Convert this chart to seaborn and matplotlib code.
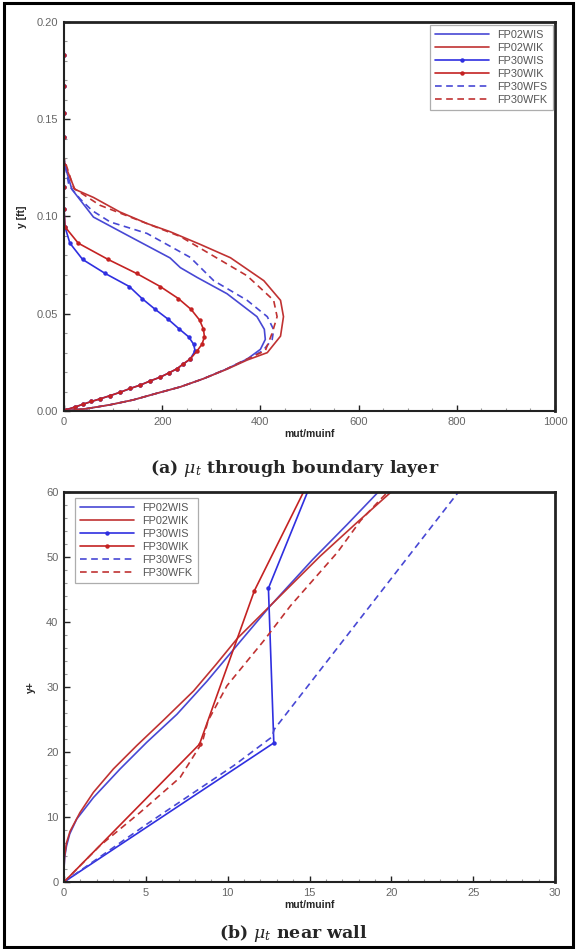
"""
Turbulent viscosity profiles: boundary layer and near-wall views.
"""

import matplotlib
matplotlib.use("Agg")
import matplotlib.pyplot as plt
from matplotlib.patches import Rectangle
from matplotlib.ticker import MultipleLocator, FormatStrFormatter
import seaborn as sns
import pandas as pd

# ---- (a) mu_t through boundary layer: mut/muinf vs y [ft] ----
a_fp02wis_x = [0, 46, 94, 141, 189, 237, 284, 332, 373, 400, 410, 408, 393, 332, 271, 237, 216, 128, 60, 16, 2, 0]
a_fp02wis_y = [0, .0012, .0032, .0057, .0091, .0124, .0166, .0217, .0267, .0317, .0368, .0420, .0485, .0603,
               .0687, .0737, .0787, .0905, .0997, .1140, .1260, .1290]

a_fp02wik_x = [0, 46, 94, 141, 189, 237, 284, 332, 373, 414, 441, 447, 441, 407, 339, 278, 216, 169, 114, 60, 22, 2, 0]
a_fp02wik_y = [0, .0012, .0032, .0057, .0091, .0124, .0166, .0215, .0262, .0300, .0385, .0485, .0569, .0670,
               .0788, .0856, .0922, .0964, .1023, .1098, .1140, .1266, .1300]

a_fp30wis_x = [0, 5, 22, 39, 56, 73, 94, 114, 135, 155, 176, 196, 213, 230, 243, 257, 267, 264, 254, 235, 212,
               186, 159, 133, 84, 38, 12, 2, 0, 0, 0, 0, 0, 0, 0]
a_fp30wis_y = [0, .0007, .0020, .0035, .0049, .0062, .0079, .0096, .0116, .0133, .0155, .0174, .0195, .0217,
               .0242, .0267, .0309, .0343, .0381, .0421, .0472, .0522, .0578, .0640, .0707, .0779, .0863,
               .0947, .1040, .1150, .1266, .1408, .1530, .1670, .1830]

a_fp30wik_x = [0, 5, 22, 39, 56, 73, 94, 114, 135, 155, 176, 196, 213, 230, 243, 257, 271, 281, 286, 284, 276,
               259, 233, 196, 148, 90, 29, 2, 0, 0, 0, 0, 0, 0, 0]
a_fp30wik_y = [0, .0007, .0020, .0035, .0049, .0062, .0079, .0096, .0116, .0133, .0155, .0174, .0195, .0217,
               .0242, .0267, .0309, .0343, .0381, .0421, .0468, .0522, .0578, .0640, .0707, .0779, .0863,
               .0947, .1040, .1150, .1266, .1408, .1530, .1670, .1830]

a_fp30wfs_x = [0, 46, 94, 141, 189, 237, 284, 332, 373, 405, 424, 427, 414, 373, 305, 257, 169, 94, 57, 33, 10, 0]
a_fp30wfs_y = [0, .0012, .0032, .0057, .0091, .0124, .0166, .0217, .0267, .0310, .0368, .0418, .0485, .0569,
               .0670, .0790, .0913, .0972, .1031, .1090, .1160, .1300]

a_fp30wfk_x = [0, 46, 94, 141, 189, 237, 284, 332, 373, 410, 424, 434, 427, 373, 237, 73, 20, 0]
a_fp30wfk_y = [0, .0012, .0032, .0057, .0091, .0124, .0166, .0217, .0267, .0310, .0401, .0485, .0569, .0695,
               .0897, .1058, .1145, .1300]

# ---- (b) mu_t near wall: mut/muinf vs y+ ----
b_fp02wis_x = [0, 0.0, 0.04, 0.15, 0.35, 0.78, 1.8, 3.43, 5.06, 6.9, 8.74, 10.7, 12.61, 15.19, 17.3, 19.24]
b_fp02wis_y = [0, 2.0, 3.8, 5.5, 7.4, 9.7, 13.0, 17.4, 21.5, 25.8, 30.9, 36.8, 42.5, 49.6, 55.0, 60.1]

b_fp02wik_x = [0, 0.0, 0.03, 0.15, 0.37, 0.98, 1.8, 3.02, 4.45, 6.08, 7.92, 9.3, 10.6, 12.6, 15.64, 17.9, 20.03]
b_fp02wik_y = [0, 2.0, 3.8, 6.0, 7.8, 10.7, 13.8, 17.4, 21.0, 24.9, 29.4, 33.5, 37.5, 42.5, 50.1, 55.3, 60.1]

b_fp30wis_x = [0, 12.82, 12.49, 17.3]
b_fp30wis_y = [0, 21.4, 45.2, 75.0]

b_fp30wik_x = [0, 8.28, 11.63, 17.6]
b_fp30wik_y = [0, 21.2, 44.8, 75.0]

b_fp30wfs_x = [0, 5.06, 10.37, 12.7, 12.85, 15.87, 18.52, 24.1]
b_fp30wfs_y = [0, 8.9, 17.9, 22.3, 23.5, 33.3, 41.9, 60.0]

b_fp30wfk_x = [0, 2.2, 4.65, 7.1, 8.45, 8.8, 9.96, 12.2, 13.84, 15.27, 16.7, 18.12, 19.35, 19.9]
b_fp30wfk_y = [0, 5.6, 10.7, 16.1, 21.5, 24.8, 30.2, 37.1, 42.5, 46.6, 50.7, 55.6, 58.9, 60.3]

series_names = ["FP02WIS", "FP02WIK", "FP30WIS", "FP30WIK", "FP30WFS", "FP30WFK"]

BLUE = "#4848d4"
BLUE_M = "#2f2fe0"
RED = "#c03232"
RED_M = "#c42222"
DASH = (0, (4, 2.7))

styles = {
    "FP02WIS": dict(color=BLUE, linestyle="-"),
    "FP02WIK": dict(color=RED, linestyle="-"),
    "FP30WIS": dict(color=BLUE_M, linestyle="-", marker="o", markersize=3.2, markeredgewidth=0),
    "FP30WIK": dict(color=RED_M, linestyle="-", marker="o", markersize=3.2, markeredgewidth=0),
    "FP30WFS": dict(color=BLUE, linestyle=DASH),
    "FP30WFK": dict(color=RED, linestyle=DASH),
}

sns.set_style("ticks")
plt.rcParams["font.family"] = ["Liberation Sans", "DejaVu Sans"]
plt.rcParams["mathtext.fontset"] = "dejavuserif"


def draw_panel(ax, data, xlim, ylim, xmaj, xmin, ymaj, ymin, yfmt, ylabel, legend_loc, legend_anchor):
    for name in series_names:
        xs, ys = data[name]
        df = pd.DataFrame({"x": xs, "y": ys})
        sns.lineplot(data=df, x="x", y="y", sort=False, estimator=None, ax=ax,
                     linewidth=1.2, label=name, **styles[name])

    ax.set_xlim(*xlim)
    ax.set_ylim(*ylim)
    ax.xaxis.set_major_locator(MultipleLocator(xmaj))
    ax.xaxis.set_minor_locator(MultipleLocator(xmin))
    ax.yaxis.set_major_locator(MultipleLocator(ymaj))
    ax.yaxis.set_minor_locator(MultipleLocator(ymin))
    if yfmt:
        ax.yaxis.set_major_formatter(FormatStrFormatter(yfmt))

    ax.tick_params(which="major", direction="in", length=4.5, width=1.0, color="#222",
                   labelsize=8, labelcolor="#666", pad=4)
    ax.tick_params(which="minor", direction="in", length=2.5, width=0.8, color="#999")
    for sp in ax.spines.values():
        sp.set_visible(True)
        sp.set_linewidth(1.5)
        sp.set_color("#222")
    ax.spines["top"].set_linewidth(2.0)
    ax.spines["right"].set_linewidth(2.0)

    ax.set_xlabel("mut/muinf", fontsize=7.5, fontweight="bold", labelpad=1.5)
    ax.set_ylabel(ylabel, fontsize=7.5, fontweight="bold", labelpad=7)

    leg = ax.legend(loc=legend_loc, bbox_to_anchor=legend_anchor, frameon=True, fancybox=False,
                    fontsize=7.8, handlelength=5.0, handletextpad=0.8, labelspacing=0.28,
                    borderpad=0.45, numpoints=1, borderaxespad=0)
    leg.get_frame().set_edgecolor("#999")
    leg.get_frame().set_linewidth(0.9)
    for t in leg.get_texts():
        t.set_color("#555")


fig = plt.figure(figsize=(5.76, 9.49), dpi=100)

ax_a = fig.add_axes([64 / 576, 1 - 411 / 949, 491 / 576, 389 / 949])
ax_b = fig.add_axes([64 / 576, 1 - 882 / 949, 491 / 576, 390 / 949])

data_a = {
    "FP02WIS": (a_fp02wis_x, a_fp02wis_y),
    "FP02WIK": (a_fp02wik_x, a_fp02wik_y),
    "FP30WIS": (a_fp30wis_x, a_fp30wis_y),
    "FP30WIK": (a_fp30wik_x, a_fp30wik_y),
    "FP30WFS": (a_fp30wfs_x, a_fp30wfs_y),
    "FP30WFK": (a_fp30wfk_x, a_fp30wfk_y),
}
data_b = {
    "FP02WIS": (b_fp02wis_x, b_fp02wis_y),
    "FP02WIK": (b_fp02wik_x, b_fp02wik_y),
    "FP30WIS": (b_fp30wis_x, b_fp30wis_y),
    "FP30WIK": (b_fp30wik_x, b_fp30wik_y),
    "FP30WFS": (b_fp30wfs_x, b_fp30wfs_y),
    "FP30WFK": (b_fp30wfk_x, b_fp30wfk_y),
}

draw_panel(ax_a, data_a, (0, 1000), (0, 0.2), 200, 50, 0.05, 0.01, "%.2f", "y [ft]",
           "upper right", (0.995, 0.992))
draw_panel(ax_b, data_b, (0, 30), (0, 60), 5, 1, 10, 2, None, "y+",
           "upper left", (0.022, 0.985))

cap_kw = dict(ha="center", va="center", fontsize=12.5, fontweight="bold",
              family=["DejaVu Serif"])
fig.text(0.511, 1 - 469 / 949, r"(a) $\mu_t$ through boundary layer", **cap_kw)
fig.text(0.510, 1 - 933 / 949, r"(b) $\mu_t$ near wall", **cap_kw)

# outer frame around the whole figure
fig.patches.append(Rectangle((4 / 576, 2.5 / 949), 569 / 576, 944 / 949, transform=fig.transFigure,
                             fill=False, edgecolor="black", linewidth=2.2))

fig.savefig("out.png", dpi=100)
plt.close(fig)
